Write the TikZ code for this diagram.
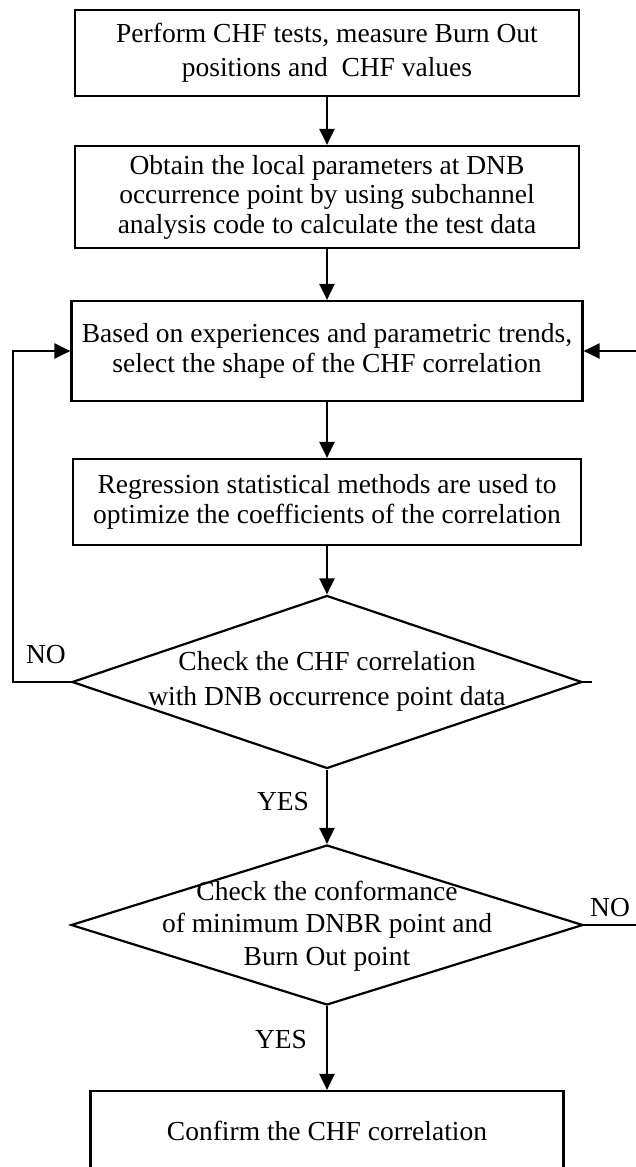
\documentclass[tikz,border=0pt]{standalone}
\usepackage{fontspec}
\setmainfont{Liberation Serif}
\usetikzlibrary{shapes.geometric,arrows.meta}
\begin{document}
\begin{tikzpicture}[x=1pt,y=1pt,
  txt/.style={align=center, inner sep=0pt, font=\fontsize{27.5}{#1}\selectfont},
  txt/.default=30,
  procbox/.style={draw, line width=2.2pt},
  decision/.style={diamond, draw, line width=2.2pt, inner sep=0pt},
  arrowline/.style={line width=2.2pt, -{Triangle[length=16pt,width=15pt]}},
  plainline/.style={line width=2.2pt}]
\path[use as bounding box] (0,0) rectangle (636,-1167);
\clip (0,0) rectangle (636,-1167);

\node[procbox, txt=34, minimum width=504pt, minimum height=86pt] (b1) at (327,-53)
  {Perform CHF tests, measure Burn Out\\positions and\ \ CHF values};
\node[procbox, txt=29.5, minimum width=504pt, minimum height=102pt] (b2) at (327,-197)
  {Obtain the local parameters at DNB\\occurrence point by using subchannel\\analysis code to calculate the test data};
\node[procbox, txt=30, minimum width=511pt, minimum height=100pt] (b3) at (327,-351)
  {Based on experiences and parametric trends,\\select the shape of the CHF correlation};
\node[procbox, txt=30, minimum width=508pt, minimum height=86pt] (b4) at (327,-502)
  {Regression statistical methods are used to\\optimize the coefficients of the correlation};
\node[decision, minimum width=510pt, minimum height=173pt] (d1) at (327,-682) {};
\node[txt=35] (d1t) at (327,-681) {Check the CHF correlation\\with DNB occurrence point data};
\node[decision, minimum width=512pt, minimum height=160pt] (d2) at (327,-925) {};
\node[txt=32.5] (d2t) at (327,-926) {Check the conformance\\of minimum DNBR point and\\Burn Out point};
\node[procbox, txt, minimum width=473pt, minimum height=80pt] (b5) at (327,-1131)
  {Confirm the CHF correlation};

\node[txt] (no1) at (46,-655) {NO};
\node[txt] (yes1) at (283,-802) {YES};
\node[txt] (yes2) at (281,-1040) {YES};
\node[txt] (no2) at (610,-908) {NO};

\coordinate (lc) at (13,-682);
\coordinate (re) at (640,-351);
\coordinate (re2) at (640,-925);
\coordinate (st) at (592,-682);

\draw[arrowline] (b1.south) -- (b2.north);
\draw[arrowline] (b2.south) -- (b3.north);
\draw[arrowline] (b3.south) -- (b4.north);
\draw[arrowline] (b4.south) -- (d1.north);
\draw[arrowline] (d1.south) -- (d2.north);
\draw[arrowline] (d2.south) -- (b5.north);
\draw[arrowline] (d1.west) -- (lc) |- (b3.west);
\draw[arrowline] (re) -- (b3.east);
\draw[plainline] (d2.east) -- (re2);
\draw[plainline] (d1.east) -- (st);
\end{tikzpicture}
\end{document}
